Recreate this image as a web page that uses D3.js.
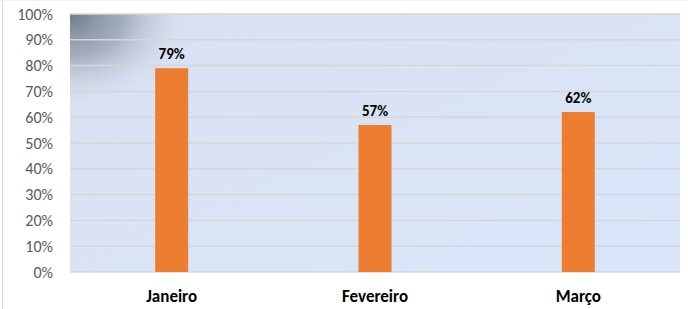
<!DOCTYPE html>
<html>
<head>
<meta charset="utf-8">
<script src="https://cdn.jsdelivr.net/npm/d3@7"></script>
<style>
body { margin: 0; background: #fff; }
svg { display: block; font-family: Carlito, Calibri, Lato, "Open Sans", sans-serif; }
</style>
</head>
<body>
<script>
var months = ["Janeiro", "Fevereiro", "Março"];
var values = [0.79, 0.57, 0.62];
var ticks = [0, 0.1, 0.2, 0.3, 0.4, 0.5, 0.6, 0.7, 0.8, 0.9, 1];

var width = 688, height = 309;
var plot = { left: 70, right: 680, top: 14, bottom: 272 };

var svg = d3.select("body")
	.append("svg")
		.attr("width", width)
		.attr("height", height);

var defs = svg.append("defs");

var bg = defs.append("linearGradient")
		.attr("id", "bg")
		.attr("x1", "0").attr("y1", "0")
		.attr("x2", "1").attr("y2", "1");
bg.append("stop").attr("offset", "0%").attr("stop-color", "#d9e1f0");
bg.append("stop").attr("offset", "100%").attr("stop-color", "#d9e6fa");

var corner = defs.append("radialGradient")
		.attr("id", "corner")
		.attr("gradientUnits", "userSpaceOnUse")
		.attr("cx", plot.left).attr("cy", plot.top)
		.attr("r", 95)
		.attr("gradientTransform", "translate(" + plot.left + "," + plot.top + ") scale(1.3,1) translate(" + (-plot.left) + "," + (-plot.top) + ")");
corner.append("stop").attr("offset", "0%").attr("stop-color", "#6f7b8b").attr("stop-opacity", 1);
corner.append("stop").attr("offset", "45%").attr("stop-color", "#98a3b3").attr("stop-opacity", 0.8);
corner.append("stop").attr("offset", "100%").attr("stop-color", "#d9e1f0").attr("stop-opacity", 0);

// outer frame
svg.append("line")
		.attr("x1", 2.5).attr("x2", 2.5)
		.attr("y1", 0).attr("y2", height)
		.attr("stroke", "#d9d9d9");
svg.append("line")
		.attr("x1", 0).attr("x2", width)
		.attr("y1", 0.5).attr("y2", 0.5)
		.attr("stroke", "#eef2f8");

var x = d3.scaleBand()
		.domain(months)
		.range([plot.left, plot.right]);

var y = d3.scaleLinear()
		.domain([0, 1])
		.range([plot.bottom, plot.top]);

svg.append("rect")
		.attr("x", plot.left)
		.attr("y", plot.top)
		.attr("width", plot.right - plot.left)
		.attr("height", plot.bottom - plot.top)
		.attr("fill", "url(#bg)");
svg.append("rect")
		.attr("x", plot.left)
		.attr("y", plot.top)
		.attr("width", plot.right - plot.left)
		.attr("height", plot.bottom - plot.top)
		.attr("fill", "url(#corner)");

// gridlines
svg.append("g")
	.selectAll("line")
		.data(ticks)
	.enter()
	.append("line")
		.attr("x1", plot.left)
		.attr("x2", plot.right)
		.attr("y1", function(d) { return y(d); })
		.attr("y2", function(d) { return y(d); })
		.attr("stroke", "#d6d6d6")
		.attr("stroke-width", 1.5);

var yAxis = svg.append("g")
		.attr("transform", "translate(" + (plot.left - 14) + ",0)")
		.call(d3.axisLeft(y).tickValues(ticks).tickFormat(d3.format(".0%")).tickSize(0));
yAxis.select(".domain").remove();
yAxis.selectAll("text")
		.attr("fill", "#595959")
		.attr("font-size", "16px")
		.attr("font-family", "Carlito, Calibri, Lato, sans-serif");

var xAxis = svg.append("g")
		.attr("transform", "translate(0," + (plot.bottom + 15) + ")")
		.call(d3.axisBottom(x).tickSize(0));
xAxis.select(".domain").remove();
xAxis.selectAll("text")
		.attr("fill", "#000")
		.attr("font-size", "17px")
		.attr("font-weight", "bold")
		.attr("font-family", "Carlito, Calibri, Lato, sans-serif");

var barWidth = 33;
var data = months.map(function(m, i) { return { month: m, value: values[i] }; });

svg.append("g")
	.selectAll("rect")
		.data(data)
	.enter()
	.append("rect")
		.attr("x", function(d) { return x(d.month) + x.bandwidth() / 2 - barWidth / 2; })
		.attr("y", function(d) { return y(d.value); })
		.attr("width", barWidth)
		.attr("height", function(d) { return y(0) - y(d.value); })
		.attr("fill", "#ed7d31");

svg.append("g")
	.selectAll("text")
		.data(data)
	.enter()
	.append("text")
		.attr("x", function(d) { return x(d.month) + x.bandwidth() / 2; })
		.attr("y", function(d) { return y(d.value) - 9; })
		.attr("text-anchor", "middle")
		.attr("font-size", "15px")
		.attr("font-weight", "bold")
		.attr("fill", "#000")
		.text(function(d) { return d3.format(".0%")(d.value); });
</script>
</body>
</html>
